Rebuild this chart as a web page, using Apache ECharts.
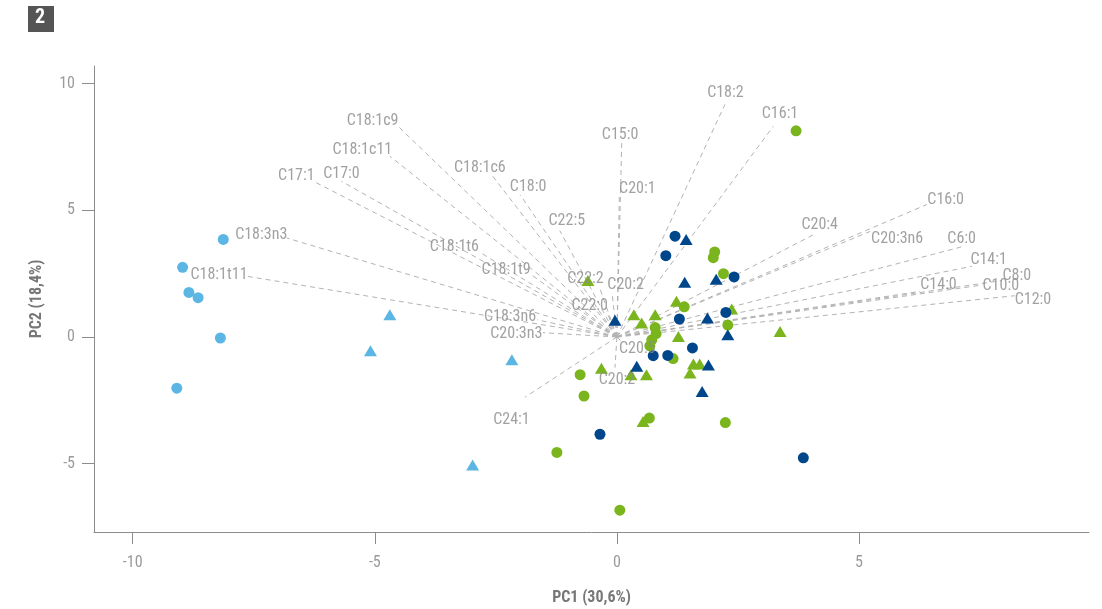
<!DOCTYPE html>
<html>
<head>
<meta charset="utf-8">
<script src="https://cdn.jsdelivr.net/npm/echarts@6/dist/echarts.min.js"></script>
<style>
  html, body { margin: 0; padding: 0; background: #ffffff; }
  #chart { width: 1102px; height: 609px; }
</style>
</head>
<body>
<div id="chart"></div>
<script>
// Tick values on each axis
const xTicks = [-10, -5, 0, 5];
const yTicks = [-5, 0, 5, 10];

// Sample scores [PC1, PC2] by group
const lightBlueCircles = [[-8.13, 3.85], [-8.97, 2.75], [-8.84, 1.76], [-8.65, 1.55], [-8.19, -0.04], [-9.09, -2.02]];
const lightBlueTriangles = [[-4.69, 0.88], [-5.09, -0.54], [-2.17, -0.90], [-2.98, -5.05]];
const greenCircles = [[3.70, 8.14], [2.02, 3.36], [1.99, 3.13], [2.20, 2.50], [1.39, 1.19], [2.29, 0.47],
  [0.79, 0.37], [0.81, 0.13], [0.72, -0.11], [0.68, -0.35], [1.16, -0.85], [-0.76, -1.49], [-0.68, -2.33],
  [0.67, -3.20], [2.24, -3.38], [-1.24, -4.56], [0.06, -6.84]];
const greenTriangles = [[-0.60, 2.23], [1.23, 1.41], [0.35, 0.88], [0.79, 0.88], [0.51, 0.55], [2.37, 1.11],
  [1.27, 0.02], [3.37, 0.22], [-0.32, -1.23], [0.29, -1.49], [0.61, -1.49], [1.51, -1.42], [1.58, -1.07],
  [1.71, -1.07], [0.54, -3.34]];
const darkBlueCircles = [[1.20, 3.98], [1.01, 3.21], [2.42, 2.37], [2.25, 0.97], [1.29, 0.71], [1.56, -0.43],
  [0.75, -0.74], [1.05, -0.73], [-0.35, -3.84], [3.85, -4.77]];
const darkBlueTriangles = [[1.43, 3.85], [1.40, 2.16], [2.05, 2.28], [-0.04, 0.66], [1.87, 0.75], [2.29, 0.09],
  [0.41, -1.16], [1.89, -1.11], [1.76, -2.15]];

// Variable loadings (arrow tips)
const loadingNames = ['C18:1c9', 'C18:1c11', 'C18:1c6', 'C18:0', 'C17:1', 'C17:0', 'C18:3n3', 'C18:1t11',
  'C18:1t6', 'C18:1t9', 'C22:5', 'C15:0', 'C20:1', 'C18:2', 'C16:1', 'C16:0', 'C20:4', 'C20:3n6', 'C6:0',
  'C14:1', 'C8:0', 'C14:0', 'C10:0', 'C12:0', 'C22:2', 'C20:2', 'C22:0', 'C18:3n6', 'C20:3n3', 'C20:5',
  'C20:2', 'C24:1'];
const loadingPC1 = [-4.52, -4.69, -2.59, -2.00, -6.27, -5.69, -6.82, -7.65, -2.85, -1.74, -1.18, 0.10, 0.05,
  2.23, 3.23, 6.40, 4.06, 5.23, 7.12, 7.33, 7.95, 6.26, 7.54, 8.22, -0.35, -0.10, -0.21, -1.65, -1.53, 0.10,
  -0.04, -1.90];
const loadingPC2 = [8.32, 7.14, 6.41, 5.62, 6.15, 6.15, 3.91, 2.40, 3.37, 2.42, 4.20, 7.73, 5.62, 9.18, 8.32,
  5.23, 4.04, 4.17, 3.56, 2.79, 2.23, 1.80, 2.05, 1.63, 1.91, 1.75, 1.00, 0.68, 0.17, -0.19, -1.21, -2.38];

// Where each loading label sits relative to its arrow tip (px)
const labelNudge = [[-25.5, -5], [-27.5, -6], [-11.7, -7], [8, -8], [-17, -5], [0, -7], [-25.5, -3], [-27.5, -1],
  [-24.5, -5], [-26.5, -5.5], [7, -10], [-1.7, -6.7], [18, -6], [0.5, -11], [6.7, -12.7], [18.8, -5], [6.2, -10],
  [27, 7.3], [0, -8.3], [16.8, -6.7], [15, -5], [18.5, -6.7], [18.8, 1.2], [18, 4.7], [-14.5, -9.7], [13.5, -8],
  [-17, -6], [-27, -2.7], [-26.5, 1], [15.5, 7.3], [2, 12], [-13.5, 22.5]];

const FONT = '"Roboto Condensed", "Liberation Sans Narrow", "DejaVu Sans Condensed", sans-serif';
const LIGHT_BLUE = '#5cb6e4';
const DARK_BLUE = '#00468b';
const GREEN = '#7ab51d';
const AXIS_GREY = '#8c8c8c';

function scoreSeries(data, color, symbol) {
  return {
    type: 'scatter',
    data: data,
    symbol: symbol,
    symbolSize: symbol === 'triangle' ? [13, 11] : 11,
    itemStyle: { color: color, opacity: 1 },
    z: 3,
    silent: true
  };
}

const chart = echarts.init(document.getElementById('chart'), null, { renderer: 'canvas' });

chart.setOption({
  animation: false,
  backgroundColor: '#ffffff',
  grid: { left: 94, right: 13, top: 66, bottom: 77, containLabel: false, outerBoundsMode: 'none' },
  xAxis: {
    type: 'value',
    min: -10.8,
    max: 9.75,
    name: 'PC1 (30,6%)',
    nameLocation: 'middle',
    nameGap: 58,
    nameTextStyle: { fontFamily: FONT, fontSize: 16, fontWeight: 'bold', color: '#777777' },
    axisLine: { onZero: false, lineStyle: { color: AXIS_GREY, width: 1 } },
    axisTick: { show: true, length: 12, customValues: xTicks, lineStyle: { color: AXIS_GREY } },
    axisLabel: { customValues: xTicks, margin: 23, fontFamily: FONT, fontSize: 16, color: '#9a9a9a' },
    splitLine: { show: false }
  },
  yAxis: {
    type: 'value',
    min: -7.7,
    max: 10.7,
    name: 'PC2 (18,4%)',
    nameLocation: 'middle',
    nameGap: 49,
    nameRotate: 90,
    nameTextStyle: { fontFamily: FONT, fontSize: 16, fontWeight: 'bold', color: '#777777' },
    axisLine: { onZero: false, lineStyle: { color: AXIS_GREY, width: 1 } },
    axisTick: { show: true, length: 12, customValues: yTicks, lineStyle: { color: AXIS_GREY } },
    axisLabel: { customValues: yTicks, margin: 19, fontFamily: FONT, fontSize: 16, color: '#9a9a9a' },
    splitLine: { show: false }
  },
  graphic: [
    { type: 'rect', left: 28, top: 6, shape: { width: 26, height: 26 }, style: { fill: '#555555' } },
    { type: 'text', left: 35, top: 8, style: { text: '2', fill: '#ffffff', font: 'bold 20px ' + FONT } }
  ],
  series: [
    {
      type: 'lines',
      coordinateSystem: 'cartesian2d',
      silent: true,
      z: 1,
      lineStyle: { color: '#b3b3b3', width: 1, type: [5, 4], opacity: 1 },
      data: loadingNames.map((n, i) => ({ coords: [[0, 0], [loadingPC1[i], loadingPC2[i]]] }))
    },
    scoreSeries(lightBlueCircles, LIGHT_BLUE, 'circle'),
    scoreSeries(lightBlueTriangles, LIGHT_BLUE, 'triangle'),
    scoreSeries(greenCircles, GREEN, 'circle'),
    scoreSeries(greenTriangles, GREEN, 'triangle'),
    scoreSeries(darkBlueCircles, DARK_BLUE, 'circle'),
    scoreSeries(darkBlueTriangles, DARK_BLUE, 'triangle'),
    {
      type: 'scatter',
      silent: true,
      z: 5,
      symbol: 'circle',
      symbolSize: 1,
      itemStyle: { color: 'rgba(0,0,0,0)' },
      data: loadingNames.map((n, i) => ({
        name: n,
        value: [loadingPC1[i], loadingPC2[i]],
        label: { offset: labelNudge[i] }
      })),
      label: {
        show: true,
        position: 'inside',
        formatter: p => p.name,
        fontFamily: FONT,
        fontSize: 16,
        color: '#8a8a8a',
        align: 'center',
        verticalAlign: 'middle'
      }
    }
  ]
});
</script>
</body>
</html>
